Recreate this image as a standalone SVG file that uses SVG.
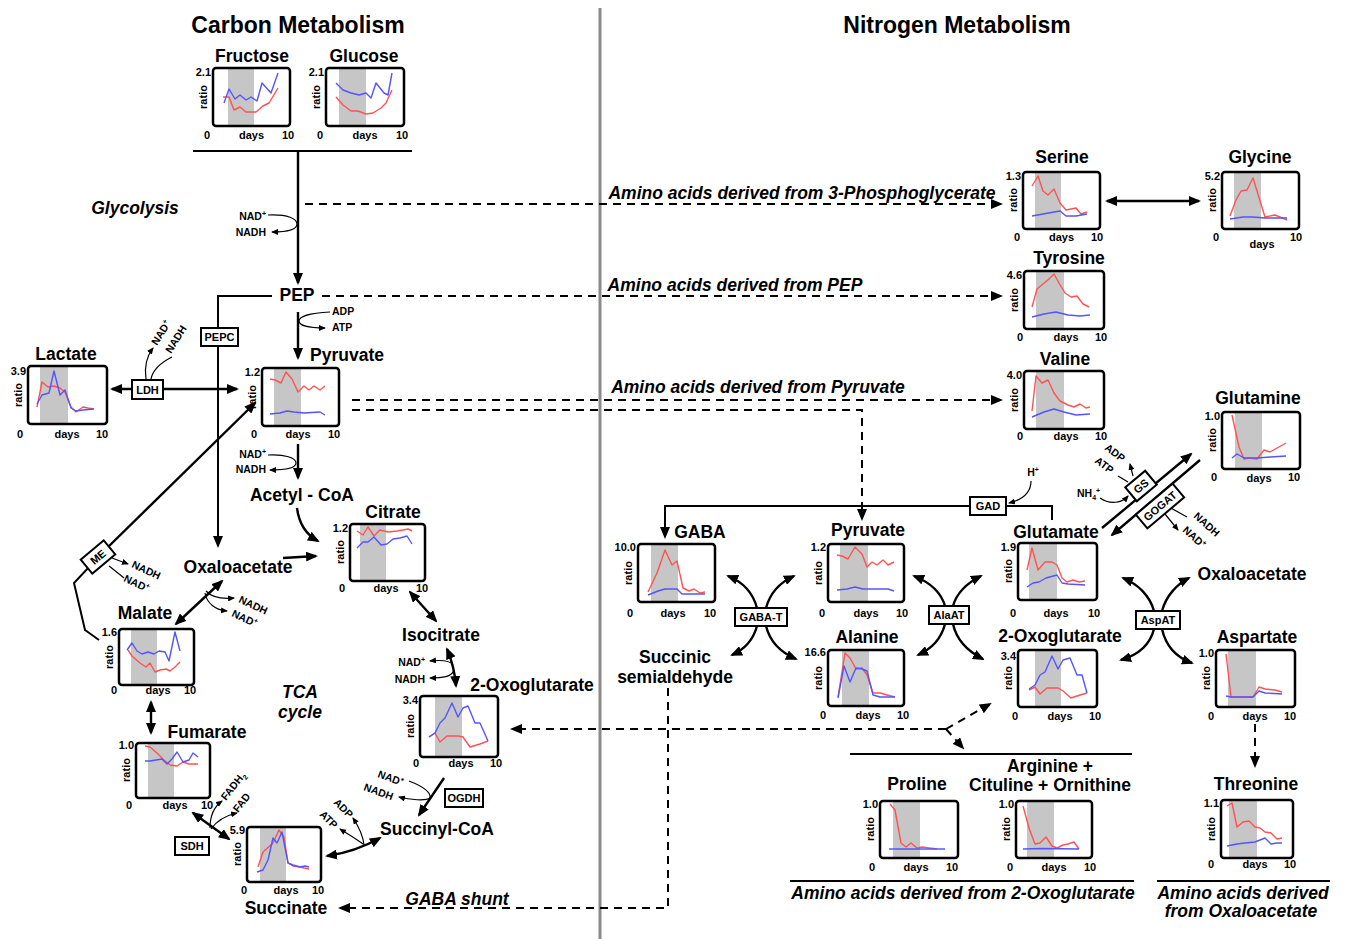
<svg xmlns="http://www.w3.org/2000/svg" width="1346" height="939" viewBox="0 0 1346 939">
<defs>
<style>
text{font-family:"Liberation Sans",Arial,sans-serif;font-weight:bold;fill:#000}
.head{font-size:23px;text-anchor:middle}
.title{font-size:17.5px;text-anchor:middle}
.it{font-size:17.5px;font-style:italic;text-anchor:middle}
.ax{font-size:11px;text-anchor:middle}
.mx{font-size:11px;text-anchor:end}
.enz{font-size:11px;text-anchor:middle}
.co{font-size:10.5px}
.sp{font-size:7px}
.frame{fill:none;stroke:#000;stroke-width:2.5}
.band{fill:#c6c6c6}
.red{fill:none;stroke:#ff5252;stroke-width:1.4;stroke-linejoin:round}
.blue{fill:none;stroke:#5454ff;stroke-width:1.4;stroke-linejoin:round}
.a{fill:none;stroke:#000;stroke-width:2.4}
.l{fill:none;stroke:#000;stroke-width:2}
.d{fill:none;stroke:#000;stroke-width:2;stroke-dasharray:8 6}
.c{fill:none;stroke:#000;stroke-width:1.2}
.box{fill:#fff;stroke:#000;stroke-width:2}
</style>
<marker id="ah" viewBox="0 0 12 10" refX="10" refY="5" markerWidth="12" markerHeight="10" markerUnits="userSpaceOnUse" orient="auto-start-reverse"><path d="M0,0 L12,5 L0,10 z"/></marker>
<marker id="sa" viewBox="0 0 7 6" refX="6" refY="3" markerWidth="7" markerHeight="6" markerUnits="userSpaceOnUse" orient="auto-start-reverse"><path d="M0,0 L7,3 L0,6 z"/></marker>
</defs>
<rect width="1346" height="939" fill="#fff"/>

<!-- section headings and divider -->
<line x1="600" y1="8" x2="600" y2="939" stroke="#8a8a8a" stroke-width="3"/>
<text class="head" x="298" y="33">Carbon Metabolism</text>
<text class="head" x="957" y="33">Nitrogen Metabolism</text>

<!-- connectors -->
<g id="connectors">
<path class="l" d="M193,151 H412"/>
<path class="a" d="M298,151 V283" marker-end="url(#ah)"/>
<path class="c" d="M268,215 C288,214 297,219 297,224 C297,229 288,232 272,232" marker-end="url(#sa)"/>
<path class="a" d="M298,312 V358" marker-end="url(#ah)"/>
<path class="c" d="M330,312 C308,313 299,317 299,321 C299,325 308,328 325,328" marker-end="url(#sa)"/>
<path class="l" d="M272,296 H218 V546" marker-end="url(#ah)"/>
<path class="a" d="M112,389 H237" marker-start="url(#ah)" marker-end="url(#ah)"/>
<path class="c" d="M146,379 C144,366 147,356 153,348" marker-end="url(#sa)"/>
<path class="c" d="M151,379 C153,369 162,362 172,357"/>
<path class="a" d="M106,549 L255,403" marker-end="url(#ah)"/>
<path class="l" d="M90,566 L74,583 L85,630 L99,640"/>
<path class="c" d="M112,558 L128,564" marker-end="url(#sa)"/>
<path class="c" d="M124,578 C118,573 114,570 109,566"/>
<path class="a" d="M298,444 V478" marker-end="url(#ah)"/>
<path class="c" d="M268,455 C285,454 296,458 296,463 C296,468 285,470 270,470" marker-end="url(#sa)"/>
<path class="a" d="M297,508 C299,524 307,535 318,541" marker-end="url(#ah)"/>
<path class="a" d="M283,558 L316,556" marker-end="url(#ah)"/>
<path class="a" d="M176,624 L222,581" marker-start="url(#ah)" marker-end="url(#ah)"/>
<path class="c" d="M206,591 C212,598 222,599 234,598" marker-end="url(#sa)"/>
<path class="c" d="M205,593 C207,604 216,610 227,611" marker-end="url(#sa)"/>
<path class="a" d="M410,592 L436,621" marker-start="url(#ah)" marker-end="url(#ah)"/>
<path class="a" d="M447,649 C452,661 455,673 456,686" marker-start="url(#ah)" marker-end="url(#ah)"/>
<path class="c" d="M453,665 C450,660 440,660 430,661" marker-end="url(#sa)"/>
<path class="c" d="M454,670 C452,677 442,678 430,678" marker-end="url(#sa)"/>
<path class="a" d="M444,778 L419,815" marker-end="url(#ah)"/>
<path class="c" d="M409,781 C422,786 431,792 430,798 C426,801 410,800 399,797" marker-end="url(#sa)"/>
<path class="a" d="M380,838 Q355,852 327,856" marker-start="url(#ah)" marker-end="url(#ah)"/>
<path class="c" d="M364,845 C363,836 359,827 353,818" marker-end="url(#sa)"/>
<path class="c" d="M363,844 C355,838 346,833 340,829" marker-end="url(#sa)"/>
<path class="a" d="M193,813 L229,839" marker-start="url(#ah)" marker-end="url(#ah)"/>
<path class="c" d="M210,828 C210,815 215,806 222,801" marker-end="url(#sa)"/>
<path class="c" d="M211,829 C218,819 228,815 237,813" marker-end="url(#sa)"/>
<path class="a" d="M151,702 V733" marker-start="url(#ah)" marker-end="url(#ah)"/>
<path class="d" d="M305,204 H1001" marker-end="url(#ah)"/>
<path class="d" d="M322,296 H1001" marker-end="url(#ah)"/>
<path class="d" d="M352,400 H1001" marker-end="url(#ah)"/>
<path class="d" d="M352,410 H862 V519" marker-end="url(#ah)"/>
<path class="d" d="M668,688 V908 H340" marker-end="url(#ah)"/>
<path class="d" d="M946,729 H512" marker-end="url(#ah)"/>
<path class="d" d="M946,729 L990,704" marker-end="url(#ah)"/>
<path class="d" d="M946,729 L963,748" marker-end="url(#ah)"/>
<path class="d" d="M1255,724 V766" marker-end="url(#ah)"/>
<path class="a" d="M1107,201 H1199" marker-start="url(#ah)" marker-end="url(#ah)"/>
<path class="l" d="M1052,520 V506 H665 V537" marker-end="url(#ah)"/>
<path class="c" d="M1031,481 C1031,494 1021,500 1009,503" marker-end="url(#sa)"/>
<path class="a" d="M757,608 C753,593 743,582 728,576" marker-end="url(#ah)"/>
<path class="a" d="M766,608 C770,593 781,582 794,576" marker-end="url(#ah)"/>
<path class="a" d="M757,626 C753,641 743,650 732,655" marker-end="url(#ah)"/>
<path class="a" d="M766,626 C770,642 782,653 796,659" marker-end="url(#ah)"/>
<path class="a" d="M945,606 C941,592 929,582 914,576" marker-end="url(#ah)"/>
<path class="a" d="M953,606 C957,592 969,582 981,576" marker-end="url(#ah)"/>
<path class="a" d="M945,624 C941,640 929,650 918,655" marker-end="url(#ah)"/>
<path class="a" d="M953,624 C957,642 969,652 983,659" marker-end="url(#ah)"/>
<path class="a" d="M1154,611 C1150,596 1138,584 1123,578" marker-end="url(#ah)"/>
<path class="a" d="M1162,611 C1166,596 1177,584 1189,578" marker-end="url(#ah)"/>
<path class="a" d="M1154,629 C1150,645 1138,655 1121,660" marker-end="url(#ah)"/>
<path class="a" d="M1162,629 C1166,647 1178,658 1192,663" marker-end="url(#ah)"/>
<path class="a" d="M1102,528 L1191,454" marker-end="url(#ah)"/>
<path class="a" d="M1200,460 L1112,535" marker-end="url(#ah)"/>
<path class="c" d="M1133,476 L1130,464" marker-end="url(#sa)"/>
<path class="c" d="M1118,476 L1128,482"/>
<path class="c" d="M1100,498 C1110,505 1122,503 1128,496" marker-end="url(#sa)"/>
<path class="c" d="M1169,507 L1187,517"/>
<path class="c" d="M1165,514 L1178,530" marker-end="url(#sa)"/>
<path class="l" d="M850,754 H1132"/>
<path class="l" d="M790,881 H1134"/>
<path class="l" d="M1157,881 H1330"/>
</g>

<!-- enzymes -->
<g id="enzymes">
<rect class="box" x="201" y="328" width="37" height="18"/><text class="enz" x="219.5" y="341">PEPC</text>
<rect class="box" x="132" y="380" width="31" height="19"/><text class="enz" x="147.5" y="394">LDH</text>
<g transform="translate(98,557) rotate(-40)"><rect class="box" x="-15" y="-9" width="30" height="18"/><text class="enz" x="0" y="4">ME</text></g>
<rect class="box" x="445" y="789" width="38" height="18"/><text class="enz" x="464" y="802">OGDH</text>
<rect class="box" x="175" y="837" width="34" height="18"/><text class="enz" x="192" y="850">SDH</text>
<rect class="box" x="970" y="497" width="36" height="18"/><text class="enz" x="988" y="510">GAD</text>
<rect class="box" x="735" y="608" width="52" height="18"/><text class="enz" x="761" y="621">GABA-T</text>
<rect class="box" x="929" y="606" width="40" height="18"/><text class="enz" x="949" y="619">AlaAT</text>
<rect class="box" x="1136" y="611" width="44" height="18"/><text class="enz" x="1158" y="624">AspAT</text>
<g transform="translate(1141,486) rotate(-40)"><rect class="box" x="-13" y="-9" width="26" height="18"/><text class="enz" x="0" y="4">GS</text></g>
<g transform="translate(1160,506) rotate(-40)"><rect class="box" x="-24" y="-9" width="48" height="18"/><text class="enz" x="0" y="4">GOGAT</text></g>
</g>

<!-- cofactors -->
<g id="cofactors">
<text class="co" x="266" y="220" text-anchor="end">NAD<tspan class="sp" dy="-4">+</tspan></text>
<text class="co" x="266" y="236" text-anchor="end">NADH</text>
<text class="co" x="332" y="315">ADP</text>
<text class="co" x="332" y="331">ATP</text>
<text class="co" transform="translate(157,346) rotate(-58)">NAD<tspan class="sp" dy="-4">+</tspan></text>
<text class="co" transform="translate(171,354) rotate(-58)">NADH</text>
<text class="co" transform="translate(131,567) rotate(25)">NADH</text>
<text class="co" transform="translate(123,581) rotate(25)">NAD<tspan class="sp" dy="-4">+</tspan></text>
<text class="co" x="266" y="458" text-anchor="end">NAD<tspan class="sp" dy="-4">+</tspan></text>
<text class="co" x="266" y="473" text-anchor="end">NADH</text>
<text class="co" transform="translate(238,602) rotate(25)">NADH</text>
<text class="co" transform="translate(231,616) rotate(25)">NAD<tspan class="sp" dy="-4">+</tspan></text>
<text class="co" x="425" y="666" text-anchor="end">NAD<tspan class="sp" dy="-4">+</tspan></text>
<text class="co" x="425" y="683" text-anchor="end">NADH</text>
<text class="co" transform="translate(377,777) rotate(20)">NAD<tspan class="sp" dy="-4">+</tspan></text>
<text class="co" transform="translate(363,790) rotate(20)">NADH</text>
<text class="co" transform="translate(333,803) rotate(45)">ADP</text>
<text class="co" transform="translate(319,815) rotate(45)">ATP</text>
<text class="co" transform="translate(226,801) rotate(-52)">FADH<tspan class="sp" dy="3">2</tspan></text>
<text class="co" transform="translate(238,813) rotate(-52)">FAD</text>
<text class="co" x="1033" y="476" text-anchor="middle">H<tspan class="sp" dy="-4">+</tspan></text>
<text class="co" transform="translate(1104,449) rotate(37)">ADP</text>
<text class="co" transform="translate(1094,462) rotate(37)">ATP</text>
<text class="co" x="1077" y="497">NH<tspan class="sp" dy="3">4</tspan><tspan class="sp" dy="-7">+</tspan></text>
<text class="co" transform="translate(1193,517) rotate(42)">NADH</text>
<text class="co" transform="translate(1182,531) rotate(42)">NAD<tspan class="sp" dy="-4">+</tspan></text>
</g>

<!-- pathway labels -->
<g id="labels">
<text class="it" x="135" y="214">Glycolysis</text>
<text class="it" x="802" y="199">Amino acids derived from 3-Phosphoglycerate</text>
<text class="it" x="735" y="291">Amino acids derived from PEP</text>
<text class="it" x="758" y="393">Amino acids derived from Pyruvate</text>
<text class="it" x="300" y="698">TCA</text>
<text class="it" x="300" y="718">cycle</text>
<text class="it" x="457" y="905">GABA shunt</text>
<text class="it" x="963" y="899">Amino acids derived from 2-Oxoglutarate</text>
<text class="it" x="1243" y="899">Amino acids derived</text>
<text class="it" x="1241" y="917">from Oxaloacetate</text>
</g>

<!-- metabolites without time course -->
<g id="pep"><text class="title" x="297" y="301">PEP</text></g>
<g id="acetylcoa"><text class="title" x="302" y="501">Acetyl - CoA</text></g>
<g id="oxaloacetate-c"><text class="title" x="238" y="573">Oxaloacetate</text></g>
<g id="isocitrate"><text class="title" x="441" y="641">Isocitrate</text></g>
<g id="succinylcoa"><text class="title" x="437" y="835">Succinyl-CoA</text></g>
<g id="ssa"><text class="title" x="675" y="663">Succinic</text><text class="title" x="675" y="683">semialdehyde</text></g>
<g id="oxaloacetate-n"><text class="title" x="1252" y="580">Oxaloacetate</text></g>

<!-- metabolites with time course charts -->
<g id="fructose" transform="translate(213,68)">
<rect class="band" x="15" y="1" width="26" height="56"/>
<polyline class="red" points="10,29 16,29 21,42 27,39 33,44 43,44 50,38 56,35 65,20"/>
<polyline class="blue" points="11,35 16,21 22,31 27,27 33,32 38,29 44,33 49,15 58,25 65,5"/>
<rect class="frame" width="77" height="58" rx="3"/>
<text class="mx" x="-2" y="8">2.1</text><text class="ax" transform="translate(-6,29) rotate(-90)">ratio</text>
<text class="ax" x="-6" y="71">0</text><text class="ax" x="38.5" y="71">days</text><text class="ax" x="75" y="71">10</text>
<text class="title" x="39" y="-6">Fructose</text>
</g>
<g id="glucose" transform="translate(326,68)">
<rect class="band" x="13" y="1" width="27" height="56"/>
<polyline class="red" points="10,29 17,37 25,43 32,43 40,46 47,45 55,40 60,35 66,22"/>
<polyline class="blue" points="10,15 17,22 25,25 33,27 40,25 45,30 50,15 58,25 62,27 66,5"/>
<rect class="frame" width="78" height="58" rx="3"/>
<text class="mx" x="-2" y="8">2.1</text><text class="ax" transform="translate(-6,29) rotate(-90)">ratio</text>
<text class="ax" x="-6" y="71">0</text><text class="ax" x="39" y="71">days</text><text class="ax" x="76" y="71">10</text>
<text class="title" x="38" y="-6">Glucose</text>
</g>
<g id="serine" transform="translate(1023,172)">
<rect class="band" x="12" y="1" width="26" height="55"/>
<polyline class="red" points="9,14 15,4 20,19 25,23 31,17 37,31 43,38 53,36 58,42 64,40"/>
<polyline class="blue" points="9,44 20,42 37,39 43,44 53,44 64,42"/>
<rect class="frame" width="77" height="57" rx="3"/>
<text class="mx" x="-2" y="8">1.3</text><text class="ax" transform="translate(-6,28) rotate(-90)">ratio</text>
<text class="ax" x="-6" y="69">0</text><text class="ax" x="38.5" y="69">days</text><text class="ax" x="74" y="69">10</text>
<text class="title" x="39" y="-9">Serine</text>
</g>
<g id="glycine" transform="translate(1222,172)">
<rect class="band" x="12" y="1" width="27" height="55"/>
<polyline class="red" points="8,44 14,28 19,19 25,18 31,6 43,45 53,43 65,48"/>
<polyline class="blue" points="8,47 21,45 31,45 43,46 65,46"/>
<rect class="frame" width="77" height="57" rx="3"/>
<text class="mx" x="-2" y="8">5.2</text><text class="ax" transform="translate(-6,28) rotate(-90)">ratio</text>
<text class="ax" x="-6" y="69">0</text><text class="ax" x="40" y="76">days</text><text class="ax" x="74" y="69">10</text>
<text class="title" x="38" y="-9">Glycine</text>
</g>
<g id="tyrosine" transform="translate(1024,271)">
<rect class="band" x="12" y="1" width="28" height="56"/>
<polyline class="red" points="8,36 13,18 19,13 25,8 30,3 35,12 41,22 47,26 53,25 59,33 65,36"/>
<polyline class="blue" points="8,46 20,43 32,41 44,44 56,45 66,44"/>
<rect class="frame" width="80" height="58" rx="3"/>
<text class="mx" x="-2" y="8">4.6</text><text class="ax" transform="translate(-6,29) rotate(-90)">ratio</text>
<text class="ax" x="-4" y="70">0</text><text class="ax" x="42" y="70">days</text><text class="ax" x="77" y="70">10</text>
<text class="title" x="45" y="-7">Tyrosine</text>
</g>
<g id="valine" transform="translate(1024,371)">
<rect class="band" x="12" y="1" width="28" height="56"/>
<polyline class="red" points="8,40 12,5 18,12 24,9 30,22 36,30 44,34 50,36 56,33 62,37 66,36"/>
<polyline class="blue" points="8,46 20,41 30,38 40,41 52,44 66,43"/>
<rect class="frame" width="80" height="58" rx="3"/>
<text class="mx" x="-2" y="8">4.0</text><text class="ax" transform="translate(-6,29) rotate(-90)">ratio</text>
<text class="ax" x="-4" y="69">0</text><text class="ax" x="42" y="69">days</text><text class="ax" x="77" y="69">10</text>
<text class="title" x="41" y="-6">Valine</text>
</g>
<g id="glutamine" transform="translate(1222,412)">
<rect class="band" x="13" y="1" width="27" height="55"/>
<polyline class="red" points="10,3 17,35 22,47 27,46 35,47 42,38 48,40 57,35 64,31"/>
<polyline class="blue" points="10,46 15,42 22,46 35,46 48,45 64,44"/>
<rect class="frame" width="78" height="57" rx="3"/>
<text class="mx" x="-2" y="8">1.0</text><text class="ax" transform="translate(-6,28) rotate(-90)">ratio</text>
<text class="ax" x="-8" y="69">0</text><text class="ax" x="37" y="70">days</text><text class="ax" x="72" y="69">10</text>
<text class="title" x="36" y="-8">Glutamine</text>
</g>
<g id="lactate" transform="translate(28,366)">
<rect class="band" x="12" y="1" width="28" height="56"/>
<polyline class="red" points="9,41 14,16 20,21 26,20 32,22 37,26 43,41 48,46 55,41 60,42 66,43"/>
<polyline class="blue" points="9,38 14,29 21,27 26,5 32,29 37,24 43,42 48,45 55,44 66,43"/>
<rect class="frame" width="79" height="58" rx="3"/>
<text class="mx" x="-2" y="9">3.9</text><text class="ax" transform="translate(-6,29) rotate(-90)">ratio</text>
<text class="ax" x="-8" y="72">0</text><text class="ax" x="39" y="72">days</text><text class="ax" x="74" y="72">10</text>
<text class="title" x="38" y="-6">Lactate</text>
</g>
<g id="pyruvate-c" transform="translate(262,368)">
<rect class="band" x="12" y="1" width="27" height="56"/>
<polyline class="red" points="8,11 13,12 19,15 24,4 30,11 36,24 42,18 47,22 52,18 58,22 63,18"/>
<polyline class="blue" points="8,46 18,45 25,43 32,44 42,45 58,44 63,47"/>
<rect class="frame" width="77" height="58" rx="3"/>
<text class="mx" x="-2" y="8">1.2</text><text class="ax" transform="translate(-6,29) rotate(-90)">ratio</text>
<text class="ax" x="-8" y="70">0</text><text class="ax" x="36" y="70">days</text><text class="ax" x="72" y="70">10</text>
<text class="title" x="85" y="-7">Pyruvate</text>
</g>
<g id="citrate" transform="translate(350,524)">
<rect class="band" x="10" y="1" width="26" height="55"/>
<polyline class="red" points="7,7 13,11 18,3 24,12 30,6 38,8 47,7 53,6 58,5 62,7"/>
<polyline class="blue" points="7,24 13,18 18,18 24,13 31,21 37,20 43,15 50,14 57,12 62,20"/>
<rect class="frame" width="75" height="57" rx="3"/>
<text class="mx" x="-2" y="8">1.2</text><text class="ax" transform="translate(-6,28) rotate(-90)">ratio</text>
<text class="ax" x="-8" y="68">0</text><text class="ax" x="36" y="68">days</text><text class="ax" x="72" y="68">10</text>
<text class="title" x="43" y="-6">Citrate</text>
</g>
<g id="malate" transform="translate(119,629)">
<rect class="band" x="12" y="1" width="26" height="54"/>
<polyline class="red" points="9,21 13,27 21,34 27,38 31,34 36,43 41,41 47,40 51,42 56,38 61,33"/>
<polyline class="blue" points="8,21 13,14 18,22 23,25 29,23 35,25 40,22 46,23 50,32 56,3 61,22"/>
<rect class="frame" width="75" height="56" rx="3"/>
<text class="mx" x="-2" y="7">1.6</text><text class="ax" transform="translate(-6,28) rotate(-90)">ratio</text>
<text class="ax" x="-5" y="65">0</text><text class="ax" x="39" y="65">days</text><text class="ax" x="71" y="65">10</text>
<text class="title" x="26" y="-10">Malate</text>
</g>
<g id="fumarate" transform="translate(136,743)">
<rect class="band" x="12" y="1" width="26" height="53"/>
<polyline class="red" points="9,3 14,4 21,10 28,17 34,22 41,23 47,19 53,21 62,21"/>
<polyline class="blue" points="9,18 14,18 20,17 26,16 31,21 36,16 41,9 47,19 53,17 57,10 62,14"/>
<rect class="frame" width="74" height="55" rx="3"/>
<text class="mx" x="-2" y="6">1.0</text><text class="ax" transform="translate(-6,27) rotate(-90)">ratio</text>
<text class="ax" x="-7" y="66">0</text><text class="ax" x="39" y="66">days</text><text class="ax" x="71" y="66">10</text>
<text class="title" x="71" y="-5">Fumarate</text>
</g>
<g id="succinate" transform="translate(247,827)">
<rect class="band" x="13" y="1" width="26" height="53"/>
<polyline class="red" points="11,40 16,25 26,16 32,3 37,10 41,36 46,39 53,40 57,41 62,42"/>
<polyline class="blue" points="10,45 16,43 21,33 26,11 30,16 35,5 41,36 46,38 53,40 58,39 62,40"/>
<rect class="frame" width="74" height="55" rx="3"/>
<text class="mx" x="-2" y="7">5.9</text><text class="ax" transform="translate(-6,27) rotate(-90)">ratio</text>
<text class="ax" x="-3" y="67">0</text><text class="ax" x="39" y="67">days</text><text class="ax" x="71" y="67">10</text>
<text class="title" x="39" y="87">Succinate</text>
</g>
<g id="oxoglutarate-c" transform="translate(420,696)">
<rect class="band" x="15" y="1" width="27" height="59"/>
<polyline class="red" points="9,41 15,37 20,46 27,40 38,40 43,41 50,51 60,48 68,45"/>
<polyline class="blue" points="9,41 15,37 20,27 25,22 32,7 38,21 43,12 48,10 55,27 60,27 68,45"/>
<rect class="frame" width="78" height="61" rx="3"/>
<text class="mx" x="-2" y="8">3.4</text><text class="ax" transform="translate(-6,30) rotate(-90)">ratio</text>
<text class="ax" x="-4" y="71">0</text><text class="ax" x="41" y="71">days</text><text class="ax" x="76" y="71">10</text>
<text class="title" x="112" y="-5">2-Oxoglutarate</text>
</g>
<g id="gaba" transform="translate(638,544)">
<rect class="band" x="13" y="1" width="27" height="56"/>
<polyline class="red" points="10,48 19,29 27,6 34,21 39,17 45,44 51,47 56,45 62,49 67,48"/>
<polyline class="blue" points="10,51 20,47 27,45 39,45 44,50 67,50"/>
<rect class="frame" width="77" height="58" rx="3"/>
<text class="mx" x="-2" y="7">10.0</text><text class="ax" transform="translate(-6,29) rotate(-90)">ratio</text>
<text class="ax" x="-8" y="73">0</text><text class="ax" x="35" y="73">days</text><text class="ax" x="72" y="73">10</text>
<text class="title" x="62" y="-6">GABA</text>
</g>
<g id="pyruvate-n" transform="translate(828,544)">
<rect class="band" x="12" y="1" width="28" height="56"/>
<polyline class="red" points="9,11 14,12 20,15 27,3 34,10 39,23 44,18 49,21 55,16 60,21 66,18"/>
<polyline class="blue" points="9,46 19,45 27,43 35,45 49,45 60,45 66,47"/>
<rect class="frame" width="76" height="58" rx="3"/>
<text class="mx" x="-2" y="7">1.2</text><text class="ax" transform="translate(-6,29) rotate(-90)">ratio</text>
<text class="ax" x="-6" y="73">0</text><text class="ax" x="38" y="73">days</text><text class="ax" x="74" y="73">10</text>
<text class="title" x="40" y="-8">Pyruvate</text>
</g>
<g id="alanine" transform="translate(828,650)">
<rect class="band" x="14" y="1" width="27" height="54"/>
<polyline class="red" points="10,47 17,3 22,8 28,19 34,18 39,25 45,43 52,43 59,45 67,47"/>
<polyline class="blue" points="10,48 16,16 22,32 28,18 34,19 39,21 45,45 52,47 67,47"/>
<rect class="frame" width="76" height="56" rx="3"/>
<text class="mx" x="-2" y="6">16.6</text><text class="ax" transform="translate(-6,28) rotate(-90)">ratio</text>
<text class="ax" x="-5" y="69">0</text><text class="ax" x="40" y="69">days</text><text class="ax" x="75" y="69">10</text>
<text class="title" x="39" y="-7">Alanine</text>
</g>
<g id="glutamate" transform="translate(1018,543)">
<rect class="band" x="11" y="1" width="28" height="55"/>
<polyline class="red" points="9,27 14,5 20,27 27,19 34,19 39,22 44,35 49,39 55,37 61,39 67,38"/>
<polyline class="blue" points="9,44 15,40 21,39 28,35 39,32 44,40 50,41 67,42"/>
<rect class="frame" width="79" height="57" rx="3"/>
<text class="mx" x="-2" y="8">1.9</text><text class="ax" transform="translate(-6,28) rotate(-90)">ratio</text>
<text class="ax" x="-5" y="74">0</text><text class="ax" x="38" y="74">days</text><text class="ax" x="76" y="74">10</text>
<text class="title" x="38" y="-5">Glutamate</text>
</g>
<g id="oxoglutarate-n" transform="translate(1018,650)">
<rect class="band" x="17" y="1" width="26" height="55"/>
<polyline class="red" points="11,40 17,37 22,44 29,38 40,38 45,41 53,48 62,45 69,43"/>
<polyline class="blue" points="11,39 17,35 22,25 27,22 34,6 40,19 45,10 52,8 59,25 64,25 69,43"/>
<rect class="frame" width="79" height="57" rx="3"/>
<text class="mx" x="-2" y="10">3.4</text><text class="ax" transform="translate(-6,28) rotate(-90)">ratio</text>
<text class="ax" x="-3" y="70">0</text><text class="ax" x="42" y="70">days</text><text class="ax" x="77" y="70">10</text>
<text class="title" x="42" y="-8">2-Oxoglutarate</text>
</g>
<g id="aspartate" transform="translate(1216,650)">
<rect class="band" x="12" y="1" width="28" height="55"/>
<polyline class="red" points="10,4 15,47 24,47 37,47 43,37 49,39 59,40 66,42"/>
<polyline class="blue" points="10,46 15,47 37,47 43,41 49,43 66,44"/>
<rect class="frame" width="79" height="57" rx="3"/>
<text class="mx" x="-2" y="7">1.0</text><text class="ax" transform="translate(-6,28) rotate(-90)">ratio</text>
<text class="ax" x="-5" y="70">0</text><text class="ax" x="39" y="70">days</text><text class="ax" x="74" y="70">10</text>
<text class="title" x="41" y="-7">Aspartate</text>
</g>
<g id="proline" transform="translate(880,801)">
<rect class="band" x="13" y="1" width="27" height="55"/>
<polyline class="red" points="10,3 15,9 21,42 26,46 31,42 37,47 42,46 49,47 57,48"/>
<polyline class="blue" points="9,48 65,48"/>
<rect class="frame" width="78" height="57" rx="3"/>
<text class="mx" x="-2" y="7">1.0</text><text class="ax" transform="translate(-6,28) rotate(-90)">ratio</text>
<text class="ax" x="-8" y="70">0</text><text class="ax" x="36" y="70">days</text><text class="ax" x="72" y="70">10</text>
<text class="title" x="37" y="-11">Proline</text>
</g>
<g id="arginine" transform="translate(1016,801)">
<rect class="band" x="11" y="1" width="27" height="55"/>
<polyline class="red" points="7,5 13,27 19,43 24,42 30,36 36,45 41,47 47,44 52,43 58,41 63,48"/>
<polyline class="blue" points="7,48 25,47.5 45,47.7 63,48"/>
<rect class="frame" width="76" height="57" rx="3"/>
<text class="mx" x="-2" y="7">1.0</text><text class="ax" transform="translate(-6,28) rotate(-90)">ratio</text>
<text class="ax" x="-6" y="70">0</text><text class="ax" x="38" y="70">days</text><text class="ax" x="74" y="70">10</text>
<text class="title" x="34" y="-29">Arginine +</text>
<text class="title" x="34" y="-10">Cituline + Ornithine</text>
</g>
<g id="threonine" transform="translate(1221,800)">
<rect class="band" x="8" y="1" width="28" height="56"/>
<polyline class="red" points="6,6 11,3 16,27 22,22 28,21 34,27 39,28 44,32 50,33 56,39 61,38"/>
<polyline class="blue" points="6,46 16,44 24,43 34,42 44,38 50,44 56,43 61,43"/>
<rect class="frame" width="72" height="58" rx="3"/>
<text class="mx" x="-2" y="7">1.1</text><text class="ax" transform="translate(-6,29) rotate(-90)">ratio</text>
<text class="ax" x="-10" y="68">0</text><text class="ax" x="34" y="68">days</text><text class="ax" x="69" y="68">10</text>
<text class="title" x="35" y="-10">Threonine</text>
</g>
</svg>
